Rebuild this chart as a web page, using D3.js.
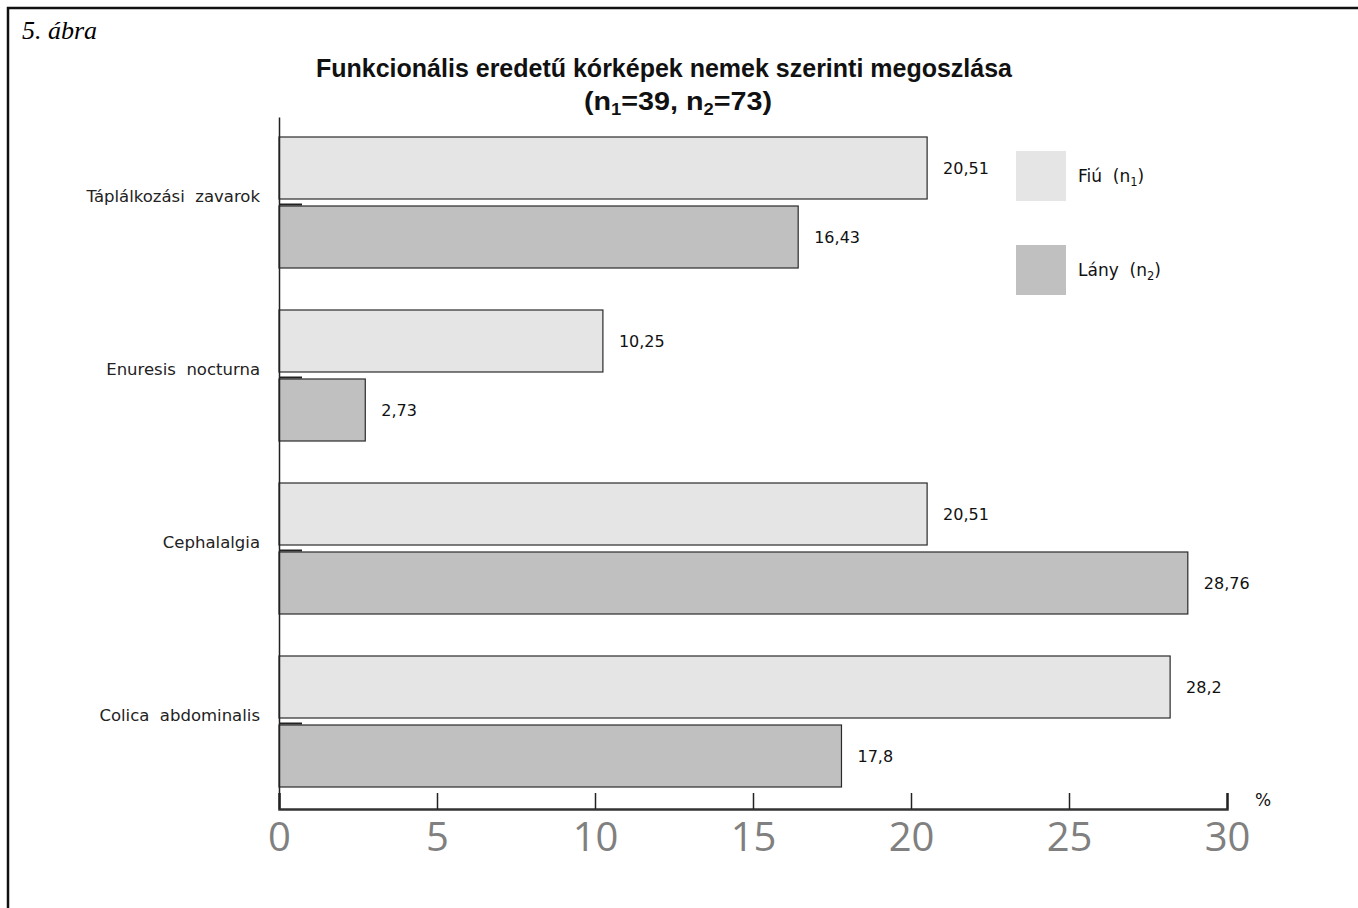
<!DOCTYPE html>
<html>
<head>
<meta charset="utf-8">
<script src="https://cdn.jsdelivr.net/npm/d3@7"></script>
<style>
  body { margin: 0; background: #fff; }
  svg { display: block; }
  .sans { font-family: "DejaVu Sans", "Noto Sans", sans-serif; }
</style>
</head>
<body>
<svg id="chart" width="1358" height="908"></svg>
<script>
// Categories (top to bottom) and the two series, in percent
const categories = ["Táplálkozási  zavarok", "Enuresis  nocturna", "Cephalalgia", "Colica  abdominalis"];
const boys  = [20.51, 10.25, 20.51, 28.2];   // Fiú (n1)
const girls = [16.43, 2.73, 28.76, 17.8];    // Lány (n2)
const valueLabelsBoys  = ["20,51", "10,25", "20,51", "28,2"];
const valueLabelsGirls = ["16,43", "2,73", "28,76", "17,8"];
const xTicks = [0, 5, 10, 15, 20, 25, 30];

const svg = d3.select("#chart");

// Frame (top and left edges)
svg.append("path")
  .attr("d", "M8,908V8H1358")
  .attr("fill", "none").attr("stroke", "#111").attr("stroke-width", 2.5);

svg.append("text")
  .attr("x", 22).attr("y", 39)
  .attr("font-family", "'Liberation Serif', 'DejaVu Serif', serif")
  .attr("font-style", "italic").attr("font-size", 26)
  .text("5. ábra");

// Title, two lines, condensed bold
const titleFont = "'Liberation Sans Narrow', 'Liberation Sans', sans-serif";
svg.append("text")
  .attr("x", 664).attr("y", 77).attr("text-anchor", "middle")
  .attr("font-family", titleFont).attr("font-weight", "bold")
  .attr("font-size", 25).attr("fill", "#111")
  .attr("textLength", 696).attr("lengthAdjust", "spacingAndGlyphs")
  .text("Funkcionális eredetű kórképek nemek szerinti megoszlása");
const t2 = svg.append("text")
  .attr("x", 678).attr("y", 110).attr("text-anchor", "middle")
  .attr("font-family", titleFont).attr("font-weight", "bold")
  .attr("font-size", 25).attr("fill", "#111")
  .attr("textLength", 188).attr("lengthAdjust", "spacingAndGlyphs");
t2.append("tspan").text("(n");
t2.append("tspan").attr("font-size", 16).attr("dy", 5).text("1");
t2.append("tspan").attr("dy", -5).text("=39, n");
t2.append("tspan").attr("font-size", 16).attr("dy", 5).text("2");
t2.append("tspan").attr("dy", -5).text("=73)");

// Scales
const x = d3.scaleLinear().domain([0, 30]).range([279, 1227]);
const y = d3.scaleBand().domain(categories).range([117, 809]);

const barH = 62;
const offBoys = 20, offGirls = 89;

// Bars
const g = svg.append("g");
g.selectAll(".boy").data(categories).join("rect")
  .attr("x", x(0)).attr("y", d => y(d) + offBoys)
  .attr("width", (d, i) => x(boys[i]) - x(0)).attr("height", barH)
  .attr("fill", "#e5e5e5").attr("stroke", "#2a2a2a").attr("stroke-width", 1.2);
g.selectAll(".girl").data(categories).join("rect")
  .attr("x", x(0)).attr("y", d => y(d) + offGirls)
  .attr("width", (d, i) => x(girls[i]) - x(0)).attr("height", barH)
  .attr("fill", "#c0c0c0").attr("stroke", "#2a2a2a").attr("stroke-width", 1.2);

// Value labels
const vl = svg.append("g").attr("class", "sans").attr("font-size", 16).attr("fill", "#111");
vl.selectAll(".vb").data(categories).join("text")
  .attr("x", (d, i) => x(boys[i]) + 16).attr("y", d => y(d) + offBoys + barH / 2)
  .attr("dy", "0.35em").text((d, i) => valueLabelsBoys[i]);
vl.selectAll(".vg").data(categories).join("text")
  .attr("x", (d, i) => x(girls[i]) + 16).attr("y", d => y(d) + offGirls + barH / 2)
  .attr("dy", "0.35em").text((d, i) => valueLabelsGirls[i]);

// Y axis: vertical line with short inward ticks at each category centre
const yAxis = svg.append("g").attr("transform", `translate(${x(0)},0)`)
  .call(d3.axisLeft(y).tickSizeInner(-23).tickSizeOuter(0).tickPadding(19));
yAxis.select(".domain").attr("stroke", "#222").attr("stroke-width", 1.5);
yAxis.selectAll(".tick line").attr("stroke", "#222").attr("stroke-width", 2)
  .attr("transform", "translate(0,1)");
yAxis.selectAll(".tick text")
  .attr("font-family", "'DejaVu Sans', 'Noto Sans', sans-serif")
  .attr("font-size", 16.5).attr("fill", "#222").attr("dy", "-0.12em")
  .attr("x", -19).attr("xml:space", "preserve");

// X axis
const xAxis = svg.append("g").attr("transform", "translate(0,809)")
  .call(d3.axisBottom(x).tickValues(xTicks).tickSize(-16).tickPadding(14));
xAxis.select(".domain").attr("stroke", "#333").attr("stroke-width", 2.5);
xAxis.selectAll(".tick line").attr("stroke", "#222").attr("stroke-width", 1.5);
xAxis.selectAll(".tick text")
  .attr("font-family", "'Open Sans', sans-serif")
  .attr("font-size", 40).attr("fill", "#808080");

svg.append("text").attr("class", "sans")
  .attr("x", 1263).attr("y", 806).attr("text-anchor", "middle")
  .attr("font-size", 17).attr("fill", "#111").text("%");

// Legend
const legendItems = [
  { label: "Fiú  (n", sub: "1", color: "#e5e5e5", y: 151 },
  { label: "Lány  (n", sub: "2", color: "#c0c0c0", y: 245 }
];
const lg = svg.append("g").attr("class", "sans");
legendItems.forEach(it => {
  lg.append("rect").attr("x", 1016).attr("y", it.y).attr("width", 50).attr("height", 50)
    .attr("fill", it.color);
  const t = lg.append("text").attr("x", 1078).attr("y", it.y + 25).attr("dy", "0.35em")
    .attr("font-size", 17).attr("fill", "#111").attr("xml:space", "preserve");
  t.append("tspan").text(it.label);
  t.append("tspan").attr("font-size", 11.5).attr("dy", 4).text(it.sub);
  t.append("tspan").attr("dy", -4).text(")");
});
</script>
</body>
</html>
